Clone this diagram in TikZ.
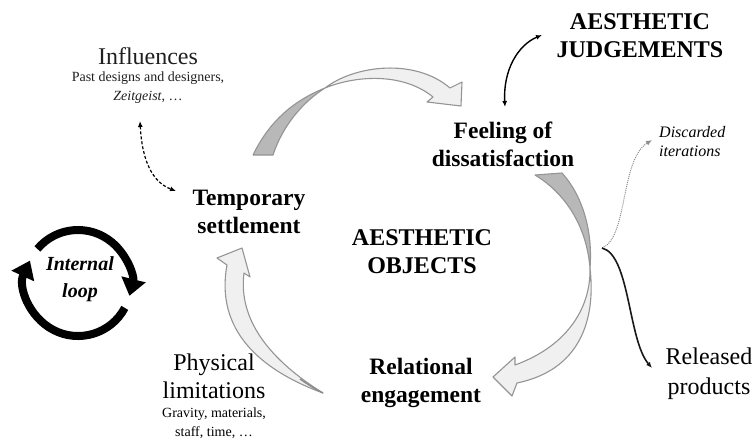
\documentclass[tikz,border=0pt]{standalone}
\usepackage{fontspec}
\setmainfont{Liberation Serif}
\usetikzlibrary{arrows.meta}
\tikzset{linktip/.tip={Latex[length=6pt,width=5pt]}}
\begin{document}
\begin{tikzpicture}[x=1pt,y=-1pt,
  lbl/.style={inner sep=0pt, align=center},
  bigbold/.style={lbl, font=\bfseries\fontsize{23.5}{28}\selectfont},
  bigreg/.style={lbl, font=\fontsize{24}{28}\selectfont},
  subtxt/.style={lbl, font=\fontsize{14}{19}\selectfont},
  arrband/.style={fill=black!6, draw=black!42, line width=1.1pt, line join=round},
  arrunder/.style={fill=black!28, draw=black!42, line width=1.1pt, line join=round},
  loopline/.style={line width=8pt, -{Triangle[width=24pt,length=17pt]}}
]
\useasboundingbox (0,0) rectangle (755,439);

% texts
\node[bigreg, text=black!88] (infl) at (148,56) {Influences};
\node[subtxt, text=black!88] (infls) at (148,88) {Past designs and designers,\\\textit{Zeitgeist}, \dots};
\node[bigbold] (temp) at (249,212) {Temporary\\settlement};
\node[bigbold] (feel) at (503,144) {Feeling of\\dissatisfaction};
\node[bigbold, font=\bfseries\fontsize{24}{28}\selectfont] (judg) at (640,36) {AESTHETIC\\JUDGEMENTS};
\node[bigbold, font=\bfseries\fontsize{24}{28}\selectfont] (obj) at (422,252) {AESTHETIC\\OBJECTS};
\node[bigbold] (rel) at (421,383) {Relational\\engagement};
\node[bigreg] (phys) at (214,376) {Physical\\limitations};
\node[subtxt] (physs) at (214,423) {Gravity, materials,\\staff, time, \dots};
\node[bigreg, font=\fontsize{24}{30}\selectfont] (rele) at (709,374) {Released\\products};
\node[lbl, anchor=west, align=left, font=\itshape\fontsize{16}{19}\selectfont] (disc) at (659,142) {Discarded\\iterations};
\node[lbl, font=\bfseries\itshape\fontsize{20}{27}\selectfont] (loopt) at (80,279) {Internal\\loop};

% internal loop
\begin{scope}[shift={(78,283)}, yscale=-1]
  \draw[loopline] (140:53) arc[start angle=140, end angle=-14, radius=53];
  \draw[loopline] (-28:53) arc[start angle=-28, end angle=-205, radius=53];
\end{scope}

% big 3D arrows
\draw[arrunder] (253,155) .. controls (270,120) and (295,100) .. (325,88) .. controls (303,102) and (283,125) .. (273,155) -- cycle;
\draw[arrband] (325,88) .. controls (355,65) and (415,58) .. (450,88) -- (462,82) -- (461,106) -- (427,102) -- (433,97) .. controls (405,74) and (360,74) .. (325,88) -- cycle;

\draw[arrunder] (535,175) -- (562,173) .. controls (582,195) and (593,230) .. (590,268) .. controls (586,220) and (560,190) .. (535,175) -- cycle;
\draw[arrband] (590,268) .. controls (596,320) and (580,370) .. (517,383) -- (512,396) -- (493,377) -- (515,357) -- (515,365) .. controls (570,345) and (591,305) .. (590,268) -- cycle;

\draw[arrband] (323,393) .. controls (260,370) and (215,330) .. (227,265) -- (217,258) -- (242,248) -- (250,277) -- (244,273) .. controls (238,320) and (270,360) .. (323,393) -- cycle;
\draw[black!45, line width=1.4pt] (300,379) .. controls (310,386) and (317,390) .. (323,393);

% connectors
\coordinate (inflEnd) at (140,121);
\coordinate (tempEnd) at (176,191);
\draw[line width=1.2pt, dash pattern=on 3pt off 2pt, {linktip}-{linktip}] (inflEnd) .. controls (142,160) and (152,182) .. (tempEnd);

\coordinate (feelEnd) at (505,107);
\coordinate (judgEnd) at (542,35);
\draw[line width=1.4pt, {linktip}-{linktip}] (feelEnd) .. controls (503,70) and (518,45) .. (judgEnd);

\coordinate (split) at (602,248);
\coordinate (discEnd) at (652,140);
\coordinate (releEnd) at (652,368);
\draw[black!45, line width=1pt, densely dotted, -{linktip}] (split) .. controls (628,238) and (620,160) .. (discEnd);
\draw[black!90, line width=1.6pt, -{linktip}] (split) .. controls (630,255) and (628,340) .. (releEnd);
\end{tikzpicture}
\end{document}
